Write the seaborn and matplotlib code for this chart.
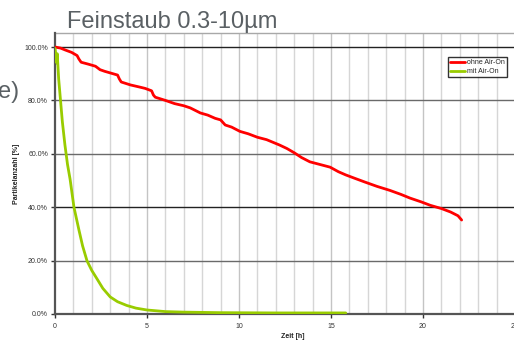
import matplotlib
matplotlib.use("Agg")
import matplotlib.pyplot as plt
import seaborn as sns
import pandas as pd
from matplotlib.ticker import MultipleLocator, FuncFormatter

# ---- data ----
ohne_t = [0, 0.3, 0.55, 0.9, 1.2, 1.3, 1.42, 1.8, 2.2, 2.45, 2.7, 3.0, 3.4, 3.5, 3.6,
          4.1, 4.6, 4.9, 5.25, 5.35, 5.45, 6.0, 6.5, 7.0, 7.35, 7.9, 8.3, 8.7, 9.0,
          9.25, 9.6, 10.05, 10.5, 11.0, 11.5, 12.2, 12.6, 13.0, 13.4, 13.85, 14.4,
          14.95, 15.4, 15.8, 16.3, 16.85, 17.5, 18.2, 18.8, 19.3, 19.9, 20.4, 21.0,
          21.5, 21.9, 22.1]
ohne_v = [100, 99.6, 98.9, 98.0, 96.8, 95.5, 94.3, 93.6, 92.8, 91.5, 90.9, 90.3, 89.5,
          88.0, 86.9, 85.8, 85.0, 84.5, 83.6, 82.0, 81.2, 80.0, 78.8, 78.0, 77.2, 75.3,
          74.5, 73.3, 72.7, 70.8, 70.0, 68.4, 67.5, 66.2, 65.3, 63.3, 62.0, 60.4, 58.6,
          57.0, 56.0, 55.0, 53.3, 52.1, 50.8, 49.4, 47.8, 46.3, 44.8, 43.4, 42.0, 40.7,
          39.5, 38.2, 36.8, 35.2]
mit_t = [0, 0.05, 0.1, 0.12, 0.2, 0.3, 0.4, 0.54, 0.68, 0.82, 1.03, 1.3, 1.5, 1.74,
         2.0, 2.28, 2.6, 3.0, 3.4, 3.9, 4.4, 5.0, 6.0, 7.0, 9.0, 12.0, 15.8]
mit_v = [99.5, 97, 94, 97.5, 88, 80, 72, 63.3, 56, 50.5, 40, 31.5, 25.5, 19.9,
         16.3, 13.2, 9.6, 6.4, 4.6, 3.2, 2.2, 1.5, 0.9, 0.7, 0.5, 0.4, 0.4]
series_names = ["ohne Air-On", "mit Air-On"]
x_ticks = [0, 5, 10, 15, 20, 25]
y_ticks = [0, 20, 40, 60, 80, 100]

df = pd.concat([
    pd.DataFrame({"Zeit": ohne_t, "Wert": ohne_v, "Serie": series_names[0]}),
    pd.DataFrame({"Zeit": mit_t, "Wert": mit_v, "Serie": series_names[1]}),
], ignore_index=True)

sns.set_style("white")
plt.rcParams['font.family'] = ['Liberation Sans', 'DejaVu Sans']

fig = plt.figure(figsize=(5.14, 3.43), dpi=100)
W, H = 514, 343
left_px, right_px, top_px, bot_px = 55, 515, 33, 314
axw, axh = right_px - left_px, bot_px - top_px
ax = fig.add_axes([left_px / W, 1 - bot_px / H, axw / W, axh / H])

palette = {series_names[0]: "#ff0000", series_names[1]: "#99cc00"}
sns.lineplot(data=df, x="Zeit", y="Wert", hue="Serie", palette=palette, sort=False,
             estimator=None, linewidth=2.0, ax=ax, legend=True, zorder=3)

ax.set_xlim(0, 25)
ax.set_ylim(0, 105.25)
ax.set_xticks(x_ticks)
ax.xaxis.set_minor_locator(MultipleLocator(1))
ax.set_yticks(y_ticks)
ax.yaxis.set_major_formatter(FuncFormatter(lambda v, p: f"{v:.1f}%"))
ax.grid(False)
for xv in range(1, 25):
    ax.axvline(xv, color="#d6d6d6" if xv % 5 else "#c4c4c4", lw=1.0, zorder=1)
for yv in y_ticks[1:]:
    ax.axhline(yv, color="#222222" if yv in (40, 100) else "#6a6a6a", lw=1.0, zorder=2)
ax.axhline(105.25, color="#a8a8a8", lw=1.0, zorder=2, clip_on=False)

for s in ["top", "right"]:
    ax.spines[s].set_visible(False)
for s in ["left", "bottom"]:
    ax.spines[s].set_color("#555555")
    ax.spines[s].set_linewidth(1.6)

ax.tick_params(axis="both", which="major", labelsize=5, colors="#333333", length=3,
               width=1.0, direction="out", left=True, bottom=True, pad=2)
ax.tick_params(axis="x", which="minor", length=0)
ax.tick_params(axis="x", pad=3.5)

ax.set_xlabel("Zeit [h]", fontsize=5, fontweight="bold", color="#222222")
ax.set_ylabel("Partikelanzahl [%]", fontsize=5, fontweight="bold", color="#222222")
ax.xaxis.set_label_coords((293 - left_px) / axw, -(337 - bot_px) / axh)
ax.yaxis.set_label_coords((17 - left_px) / axw, 0.5)
ax.xaxis.label.set_va("center")
ax.yaxis.label.set_va("center")

leg = ax.legend(loc="upper right", bbox_to_anchor=((507 - left_px) / axw, 1 - (57 - top_px) / axh),
                fontsize=5, frameon=True, fancybox=False, handlelength=2.2,
                borderpad=0.3, labelspacing=0.3, handletextpad=0.3, borderaxespad=0)
leg.get_frame().set_edgecolor("black")
leg.get_frame().set_linewidth(1.0)
for line in leg.get_lines():
    line.set_linewidth(2.0)

fig.text(67 / W, 1 - 28 / H, "Feinstaub 0.3-10µm", fontsize=17, color="#5a6064",
         ha="left", va="baseline")
fig.text(-2 / W, 1 - 98 / H, "e)", fontsize=17, color="#5a6064", ha="left", va="baseline")

fig.savefig("out.png", dpi=100)
